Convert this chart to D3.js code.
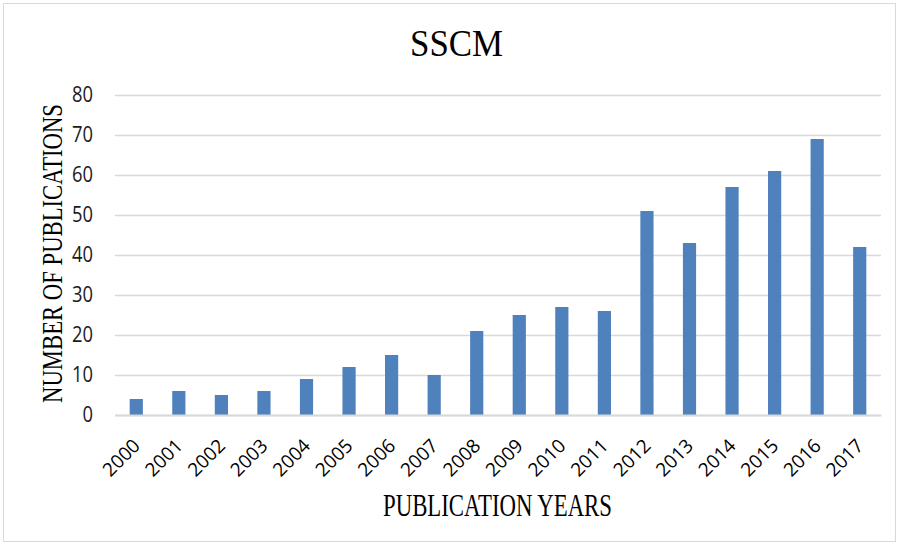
<!DOCTYPE html>
<html><head><meta charset="utf-8">
<script src="https://cdn.jsdelivr.net/npm/d3@7"></script>
<style>body{margin:0;background:#fff}svg{display:block}</style>
</head><body>
<svg id="c" width="899" height="546"></svg>
<script>
const years = ["2000","2001","2002","2003","2004","2005","2006","2007","2008","2009","2010","2011","2012","2013","2014","2015","2016","2017"];
const publications = [4,6,5,6,9,12,15,10,21,25,27,26,51,43,57,61,69,42];
const yTicks = [0,10,20,30,40,50,60,70,80];

(function(){
const svg = d3.select("#c");
svg.append("rect").attr("x",3.5).attr("y",3.5).attr("width",892).attr("height",538)
  .attr("fill","#fff").attr("stroke","#d9d9d9").attr("stroke-width",1);

const mL=115,mR=881,mT=95,mB=415;
const x = d3.scaleBand().domain(years).range([mL,mR]).paddingInner(0.69).paddingOuter(0.345);
const y = d3.scaleLinear().domain([0,80]).range([mB,mT]);

const grid = svg.append("g").attr("transform",`translate(${mL},0)`)
  .call(d3.axisLeft(y).tickValues(yTicks).tickSize(-(mR-mL)).tickFormat(""));
grid.select(".domain").remove();
grid.selectAll("line").attr("stroke","#d9d9d9").attr("stroke-width",1.5);

svg.append("g").selectAll("rect").data(publications).join("rect")
  .attr("x",(d,i)=>x(years[i])).attr("width",x.bandwidth())
  .attr("y",d=>y(d)).attr("height",d=>y(0)-y(d)).attr("fill","#4f81bd");

const ya = svg.append("g").attr("transform",`translate(${mL},0)`)
  .call(d3.axisLeft(y).tickValues(yTicks).tickSize(0).tickPadding(22));
ya.select(".domain").remove();
ya.selectAll("text").attr("font-family","'Open Sans', sans-serif").attr("font-size",21).attr("fill","#1a1a1a")
  .attr("textLength",function(){return 10.5*this.textContent.length;}).attr("lengthAdjust","spacingAndGlyphs");

const xa = svg.append("g").attr("transform",`translate(0,${mB})`)
  .call(d3.axisBottom(x).tickSize(0).tickPadding(0).tickFormat(""));
xa.select(".domain").attr("stroke","#d9d9d9").attr("stroke-width",2);
xa.selectAll(".tick").append("g").attr("transform","translate(5,32) rotate(-45)")
  .append("text").attr("font-family","'Open Sans', sans-serif").attr("font-size",19).attr("fill","#000")
  .attr("text-anchor","end").text(d=>d);

const serif = "'Liberation Serif', 'Times New Roman', serif";
svg.append("text").attr("x",456.5).attr("y",56).attr("text-anchor","middle")
  .attr("font-family",serif).attr("font-size",37).attr("textLength",93).attr("lengthAdjust","spacingAndGlyphs").text("SSCM");
svg.append("text").attr("x",497.5).attr("y",516).attr("text-anchor","middle")
  .attr("font-family",serif).attr("font-size",31).attr("textLength",229).attr("lengthAdjust","spacingAndGlyphs").text("PUBLICATION YEARS");
svg.append("text").attr("transform","translate(62,253.5) rotate(-90)").attr("text-anchor","middle")
  .attr("font-family",serif).attr("font-size",29).attr("textLength",299).attr("lengthAdjust","spacingAndGlyphs").text("NUMBER OF PUBLICATIONS");
})();
</script>
</body></html>
